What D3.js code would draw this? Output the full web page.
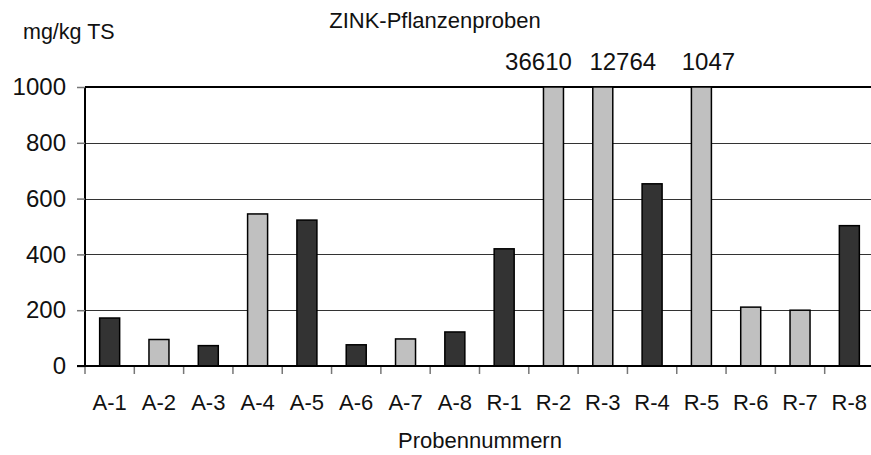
<!DOCTYPE html>
<html lang="de">
<head>
    <meta charset="UTF-8">
    <style>
        body {
            margin: 0;
            padding: 0;
            background-color: #fff;
            overflow: hidden;
        }

        #chart {
            display: block;
            font-family: "Liberation Sans", Arial, sans-serif;
        }

        .bar {
            stroke: #000;
            stroke-width: 1.5px;
        }

        .grid line {
            stroke: #333;
            stroke-width: 1px;
        }
    </style>
</head>
<body>
    <svg id="chart"></svg>

    <script src="https://d3js.org/d3.v7.min.js"></script>
    <script>
        const width = 871;
        const height = 455;

        // Probennummern und Zinkgehalte (mg/kg TS)
        const samples = ["A-1", "A-2", "A-3", "A-4", "A-5", "A-6", "A-7", "A-8",
                         "R-1", "R-2", "R-3", "R-4", "R-5", "R-6", "R-7", "R-8"];
        const zinc = [172, 95, 73, 545, 523, 76, 97, 122,
                      420, 36610, 12764, 653, 1047, 211, 200, 503];
        // dark = 0, light = 1
        const sampleGroup = [0, 1, 0, 1, 0, 0, 1, 0, 0, 1, 1, 0, 1, 1, 1, 0];
        const groupColors = ["#333333", "#c0c0c0"];
        const yTicks = [0, 200, 400, 600, 800, 1000];

        const margin = { top: 87, right: -3, bottom: 89, left: 85 };

        const svg = d3.select("#chart")
            .attr("width", width)
            .attr("height", height);

        const x = d3.scaleBand()
            .domain(samples)
            .range([margin.left, width - margin.right]);

        const y = d3.scaleLinear()
            .domain([0, 1000])
            .range([height - margin.bottom, margin.top]);

        // grid lines
        svg.append("g")
            .attr("class", "grid")
            .selectAll("line")
            .data(yTicks.filter(d => d > 0 && d < 1000))
            .join("line")
            .attr("x1", margin.left)
            .attr("x2", width)
            .attr("y1", d => Math.round(y(d)) + 0.5)
            .attr("y2", d => Math.round(y(d)) + 0.5);

        // top frame line
        svg.append("line")
            .attr("x1", margin.left)
            .attr("x2", width)
            .attr("y1", y(1000))
            .attr("y2", y(1000))
            .attr("stroke", "#000")
            .attr("stroke-width", 2);

        // bars (clipped at 1000)
        const barW = 20;
        svg.append("g")
            .selectAll("rect")
            .data(samples)
            .join("rect")
            .attr("class", "bar")
            .attr("x", d => x(d) + x.bandwidth() / 2 - barW / 2)
            .attr("width", barW)
            .attr("y", (d, i) => y(Math.min(zinc[i], 1000)))
            .attr("height", (d, i) => y(0) - y(Math.min(zinc[i], 1000)))
            .attr("fill", (d, i) => groupColors[sampleGroup[i]]);

        // values for bars above the scale
        const overLabelDx = { "R-2": -15, "R-3": 20, "R-5": 7 };
        svg.append("g")
            .selectAll("text")
            .data(samples.filter((d, i) => zinc[i] > 1000))
            .join("text")
            .attr("x", d => x(d) + x.bandwidth() / 2 + (overLabelDx[d] || 0))
            .attr("y", 70)
            .attr("text-anchor", "middle")
            .attr("font-size", 24)
            .attr("fill", "#111")
            .text(d => zinc[samples.indexOf(d)]);

        // y axis
        const yAxis = svg.append("g")
            .attr("transform", `translate(${margin.left},0)`)
            .call(d3.axisLeft(y).tickValues(yTicks).tickFormat(d3.format("d"))
                .tickSize(8).tickPadding(11));
        yAxis.select(".domain").attr("stroke", "#000").attr("stroke-width", 2)
            .attr("d", `M0,${y(1000)}V${y(0)}`);
        yAxis.selectAll(".tick line").attr("stroke", "#777").attr("stroke-width", 1.5);
        yAxis.selectAll(".tick text")
            .attr("font-family", "Liberation Sans, Arial, sans-serif")
            .attr("font-size", 24)
            .attr("fill", "#111");

        // x axis
        const xAxis = svg.append("g")
            .attr("transform", `translate(0,${y(0)})`);
        xAxis.append("line")
            .attr("x1", margin.left - 8)
            .attr("x2", width)
            .attr("stroke", "#000")
            .attr("stroke-width", 2);
        xAxis.selectAll(".xtick")
            .data(samples)
            .join("line")
            .attr("class", "xtick")
            .attr("x1", d => x(d))
            .attr("x2", d => x(d))
            .attr("y1", 1)
            .attr("y2", 8)
            .attr("stroke", "#777")
            .attr("stroke-width", 1.5);
        xAxis.selectAll(".xlabel")
            .data(samples)
            .join("text")
            .attr("class", "xlabel")
            .attr("x", d => x(d) + x.bandwidth() / 2)
            .attr("y", 43.5)
            .attr("text-anchor", "middle")
            .attr("font-size", 22)
            .attr("fill", "#111")
            .text(d => d);

        // titles
        svg.append("text")
            .attr("x", 435)
            .attr("y", 28)
            .attr("text-anchor", "middle")
            .attr("font-size", 22)
            .attr("fill", "#111")
            .text("ZINK-Pflanzenproben");

        svg.append("text")
            .attr("x", 23)
            .attr("y", 39)
            .attr("font-size", 21.5)
            .attr("fill", "#111")
            .text("mg/kg TS");

        svg.append("text")
            .attr("x", 480)
            .attr("y", 448)
            .attr("text-anchor", "middle")
            .attr("font-size", 22)
            .attr("fill", "#111")
            .text("Probennummern");
    </script>
</body>
</html>
